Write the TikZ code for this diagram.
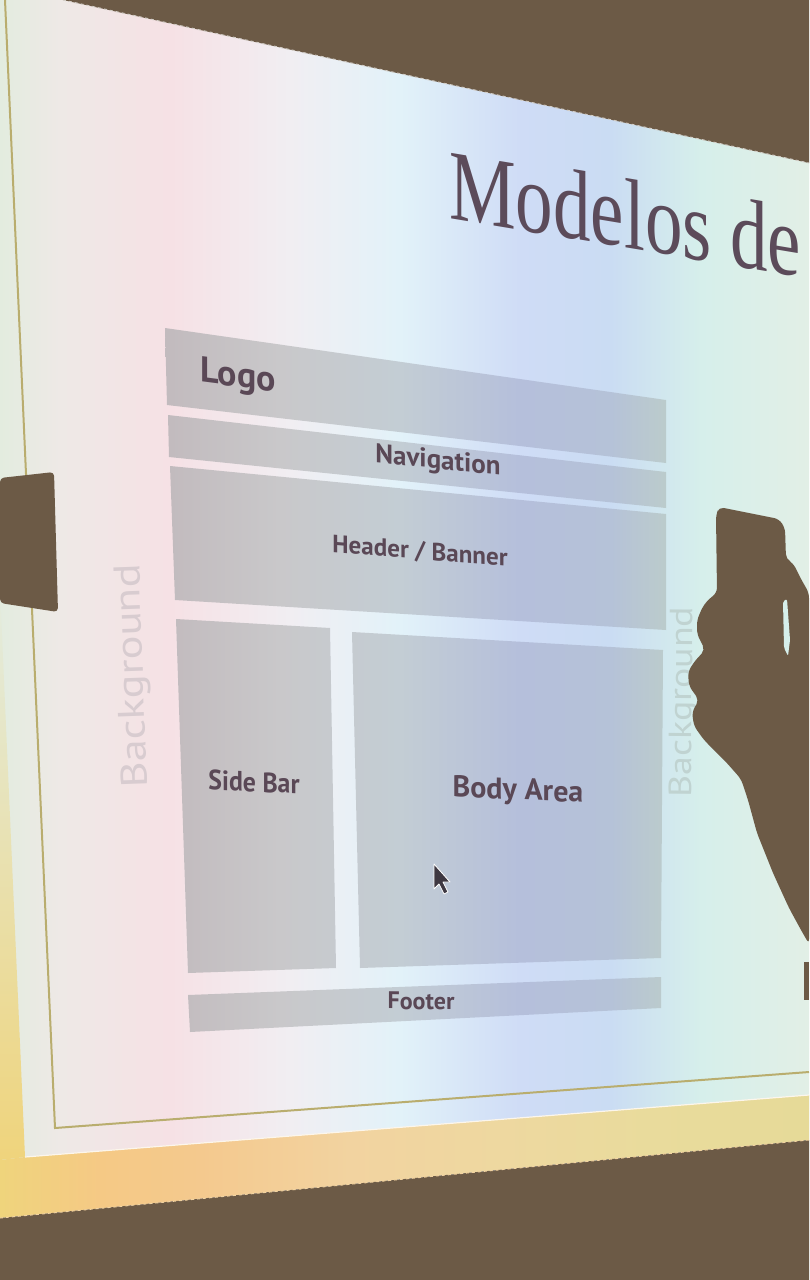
\documentclass[tikz,border=0pt]{standalone}
\usepackage{fontspec}
\usepackage{graphicx}
\setmainfont{Liberation Serif}
\newfontfamily\labelfont{PT Sans}

% projected light across the screen, left to right
\definecolor{scA}{HTML}{E3ECDF}
\definecolor{scB}{HTML}{EEE9E6}
\definecolor{scC}{HTML}{F6E1E5}
\definecolor{scD}{HTML}{F1EEF2}
\definecolor{scE}{HTML}{E2F2F9}
\definecolor{scF}{HTML}{CFDCF6}
\definecolor{scG}{HTML}{CADCF3}
\definecolor{scH}{HTML}{D6EFEB}
\definecolor{scI}{HTML}{E2EFE6}
% layout blocks, same light but grey
\definecolor{bxA}{HTML}{C8C9C3}
\definecolor{bxB}{HTML}{C2BBBE}
\definecolor{bxC}{HTML}{C9C8CA}
\definecolor{bxD}{HTML}{C3CDD4}
\definecolor{bxE}{HTML}{B5BFDB}
\definecolor{bxF}{HTML}{B5C2D8}
\definecolor{bxG}{HTML}{BCCCCB}
\definecolor{bxH}{HTML}{C0CEC8}
% warm band under the slide
\definecolor{ywA}{HTML}{EFD47C}
\definecolor{ywB}{HTML}{F5C985}
\definecolor{ywC}{HTML}{F4C98E}
\definecolor{ywD}{HTML}{F2D3A0}
\definecolor{ywE}{HTML}{EED8A0}
\definecolor{ywF}{HTML}{E9DB9C}
\definecolor{ywG}{HTML}{E6DA98}
\definecolor{wall}{HTML}{6C5A46}
\definecolor{ink}{HTML}{5A4856}
\definecolor{titleink}{HTML}{5C4B5A}
\definecolor{frameline}{HTML}{B9AD6E}
\definecolor{faintL}{HTML}{D8CCD0}
\definecolor{faintR}{HTML}{C0D3D1}
\definecolor{cursorgray}{HTML}{3E3842}

% x positions 0..809 map to 25bp..75bp
\pgfdeclarehorizontalshading{screenglow}{100bp}{%
  color(0bp)=(scA); color(25bp)=(scA); color(28.7bp)=(scB);
  color(35.5bp)=(scC); color(42.9bp)=(scD); color(49.7bp)=(scE);
  color(57.1bp)=(scF); color(62.7bp)=(scG); color(68.3bp)=(scH);
  color(75bp)=(scI); color(100bp)=(scI)}
\pgfdeclarehorizontalshading{boxglow}{100bp}{%
  color(0bp)=(bxA); color(25bp)=(bxA); color(35.5bp)=(bxB);
  color(42.3bp)=(bxC); color(49.7bp)=(bxD); color(57.1bp)=(bxE);
  color(62.7bp)=(bxF); color(66.4bp)=(bxG); color(75bp)=(bxH);
  color(100bp)=(bxH)}
\pgfdeclarehorizontalshading{warmband}{100bp}{%
  color(0bp)=(ywA); color(25bp)=(ywA); color(31.2bp)=(ywB);
  color(37.4bp)=(ywC); color(46.6bp)=(ywD); color(55.9bp)=(ywE);
  color(65.2bp)=(ywF); color(75bp)=(ywG); color(100bp)=(ywG)}

% text squeezed or stretched along its baseline
\newcommand{\widthscale}[2]{\scalebox{#1}[1]{#2}}

\begin{document}
\begin{tikzpicture}[x=1pt,y=-1pt,
  lbl/.style={text=ink, inner sep=0pt,
    font=\labelfont\bfseries\fontsize{#1}{#1}\selectfont},
  bglbl/.style={inner sep=0pt,
    font=\labelfont\fontsize{#1}{#1}\selectfont}]

\clip (0,0) rectangle (809,1280);

% screen surface
\shade[shading=screenglow] (0,0) rectangle (809,1280);

% warm light below and left of the slide
\shade[shading=warmband] (25,1157) -- (809,1095) -- (809,1140) -- (0,1218) -- (0,1160) -- cycle;
\shade[top color=scA, middle color=scA!70!ywA, bottom color=ywA] (0,590) -- (25,1157) -- (0,1160) -- cycle;
\draw[white!80!ywD, line width=1.2] (25,1157) -- (809,1095);

% wall around the screen
\fill[wall] (63,0) -- (809,163) -- (809,0) -- cycle;
\fill[wall] (0,1218) -- (809,1140) -- (809,1280) -- (0,1280) -- cycle;
\draw[white!70!wall, line width=1, dash pattern=on 3pt off 3pt] (63,0) -- (809,163);
\draw[ywD, line width=1, dash pattern=on 3pt off 3pt] (0,1218) -- (809,1140);

% slide frame
\draw[frameline, line width=2] (5,0) -- (55,1128) -- (809,1072);

% title, slanted with the screen so its stems stay upright
\node[anchor=base west, yslant=-0.167, inner sep=0pt,
  text=titleink, font=\fontsize{100}{100}\selectfont] (title) at (449,218)
  {\widthscale{0.75}{Modelos de}};

% layout blocks
\begin{scope}
  \clip (165,328) -- (666,400) -- (666,463) -- (167,405) -- cycle
        (168,415) -- (666,472) -- (666,508) -- (169,457) -- cycle
        (170,466) -- (666,514) -- (666,630) -- (175,600) -- cycle
        (176,619) -- (330,628) -- (336,968) -- (188,973) -- cycle
        (352,632) -- (663,650) -- (661,958) -- (360,968) -- cycle
        (188,995) -- (661,977) -- (661,1008) -- (190,1032) -- cycle;
  \shade[shading=boxglow] (0,0) rectangle (809,1280);
\end{scope}

% block labels
\node[lbl=36, yslant=-0.13] (logo) at (238,378) {Logo};
\node[lbl=27, yslant=-0.105] (nav) at (438,462) {Navigation};
\node[lbl=25, yslant=-0.08] (header) at (420,552) {Header / Banner};
\node[lbl=28, yslant=-0.045] (sidebar) at (254,782) {\widthscale{0.92}{Side Bar}};
\node[lbl=30, yslant=-0.045] (body) at (518,792) {Body Area};
\node[lbl=24, yslant=-0.01] (footer) at (421,1001) {Footer};

% page background labels
\node[bglbl=37, text=faintL, rotate=92] (bgleft) at (134,676) {\widthscale{1.2}{Background}};
\node[bglbl=32, text=faintR, rotate=89.5] (bgright) at (684,702) {\widthscale{1.18}{Background}};

% mouse pointer
\draw[fill=cursorgray, draw=white, line width=0.8, line join=round]
  (434,864) -- ++(0,25) -- ++(5,-5) -- ++(5,10) -- ++(4,-2) -- ++(-5,-10) -- ++(7,0) -- cycle;

% clip on the left edge of the screen
\fill[wall, rounded corners=4pt] (0,478) -- (54,472) -- (58,612) -- (0,603) -- cycle;

% hand holding a phone in front of the beam
\fill[wall, rounded corners=5pt]
  (716,515) -- (719,507) -- (779,519) -- (785,528) -- (786,559) -- (793,563)
  -- (801,579) -- (809,593) -- (809,944) -- (801,930) -- (789,908) -- (773,873)
  -- (757,833) -- (748,800) -- (741,779) -- (726,762) -- (704,740) -- (694,726)
  -- (692,712) -- (699,700) -- (689,686) -- (688,672) -- (694,662) -- (705,650)
  -- (697,634) -- (697,620) -- (703,606) -- (710,598) -- (717,593) -- cycle;
\fill[scH, rounded corners=2pt] (783,601) -- (787,599) -- (790,640) -- (788,656) -- (784,648) -- cycle;
\fill[wall] (804,962) rectangle (809,1000);

\end{tikzpicture}
\end{document}
